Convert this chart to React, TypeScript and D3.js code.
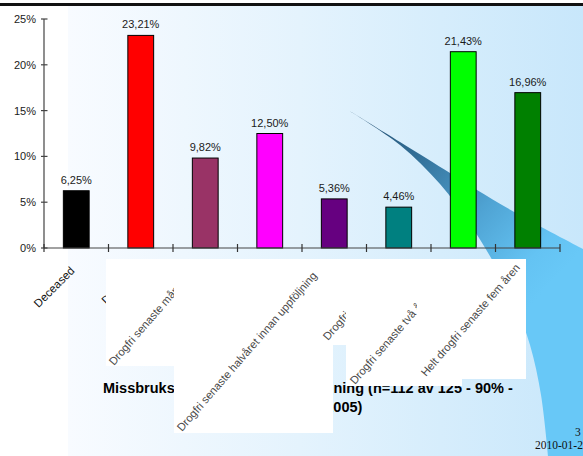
import React from "react";
import * as d3 from "d3";

// ---- chart data ----
const values = [6.25, 23.21, 9.82, 12.5, 5.36, 4.46, 21.43, 16.96];
const barColors = ["#000000", "#ff0000", "#993366", "#ff00ff", "#660080", "#008080", "#00ff00", "#008000"];
const axisLabels = ["Deceased", "Drogbruk"];
const yTicks = [0, 5, 10, 15, 20, 25];

// text boxes laid over the category axis
const calloutTexts = [
  "Drogfri senaste månaden",
  "Drogfri senaste halvåret innan uppföljning",
  "Drogfri senaste året",
  "Drogfri senaste två åren",
  "Helt drogfri senaste fem åren",
];

const titleLines = [
  "Missbruksstatus vid 5-års uppföljning (n=112 av 125 - 90% -",
  "inskrivna 2005)",
];
const slideNumber = "3";
const slideDate = "2010-01-2";

// ---- layout ----
const W = 583;
const H = 456;
const plot = { left: 44, right: 560, top: 19, bottom: 248 };
const FONT = "'Liberation Sans', Arial, sans-serif";

const calloutBoxes = [
  { x: 106, y: 259, w: 150, h: 107, tx: 114, ty: 366 },
  { x: 174, y: 259, w: 159, h: 174, tx: 182, ty: 432 },
  { x: 320, y: 259, w: 80, h: 86, tx: 328, ty: 341 },
  { x: 346, y: 259, w: 116, h: 127, tx: 355, ty: 385 },
  { x: 417, y: 259, w: 109, h: 120, tx: 426, ty: 377 },
];

// decorative swoosh of the slide background
const swooshLower: [number, number][] = [
  [348, 110], [400, 145], [440, 184], [470, 224], [495, 265], [515, 305], [530, 345], [541, 395], [548, 456],
];
const swooshUpper: [number, number][] = [
  [583, 249], [523, 217], [477, 190], [450, 173], [400, 142], [348, 110],
];

const fmtPct = (v: number) => d3.format(".2f")(v).replace(".", ",") + "%";

export default function App() {
  const y = d3.scaleLinear().domain([0, 25]).range([plot.bottom, plot.top]);
  const x = d3
    .scaleBand<number>()
    .domain(d3.range(values.length))
    .range([plot.left, plot.right])
    .paddingInner(0.6)
    .paddingOuter(0.3);
  const bw = x.bandwidth();
  const gap = (x.step() - bw) / 2;
  const boundaries = [...d3.range(values.length).map((i) => (x(i) as number) - gap), plot.right];

  const curve = d3.line().curve(d3.curveCatmullRom.alpha(0.5));
  const lower = curve(swooshLower) as string;
  const upper = (curve(swooshUpper) as string).replace(/^M/, "L");
  const swooshPath = `${lower}L${W + 2},${H}L${W + 2},249${upper}Z`;

  return (
    <svg
      width={W}
      height={H}
      viewBox={`0 0 ${W} ${H}`}
      style={{ position: "fixed", left: 0, top: 0, display: "block" }}
    >
      <defs>
        <linearGradient id="bg" x1="68" y1="0" x2={W} y2="0" gradientUnits="userSpaceOnUse">
          <stop offset="0" stopColor="#f8fbff" />
          <stop offset="0.45" stopColor="#e4f3fd" />
          <stop offset="1" stopColor="#c8e7fb" />
        </linearGradient>
        <linearGradient id="swoosh" x1="350" y1="110" x2="545" y2="290" gradientUnits="userSpaceOnUse">
          <stop offset="0" stopColor="#1f4767" />
          <stop offset="0.3" stopColor="#336f97" />
          <stop offset="0.62" stopColor="#4fa3d3" />
          <stop offset="0.88" stopColor="#64c3f3" />
          <stop offset="1" stopColor="#68c8f7" />
        </linearGradient>
      </defs>

      {/* slide background */}
      <rect x={0} y={0} width={W} height={H} fill="#ffffff" />
      <rect x={68} y={6} width={W - 68} height={H - 6} fill="url(#bg)" />
      <path d={swooshPath} fill="url(#swoosh)" />
      <rect x={0} y={3} width={W} height={3} fill="#111111" />

      {/* bars */}
      {values.map((v, i) => (
        <rect
          key={`bar-${i}`}
          x={x(i)}
          y={y(v)}
          width={bw}
          height={y(0) - y(v)}
          fill={barColors[i]}
          stroke="#000000"
          strokeWidth={1}
        />
      ))}

      {/* value labels */}
      {values.map((v, i) => (
        <text
          key={`val-${i}`}
          x={(x(i) as number) + bw / 2}
          y={y(v) - 7}
          textAnchor="middle"
          fontFamily={FONT}
          fontSize={11}
          fill="#1a1a1a"
        >
          {fmtPct(v)}
        </text>
      ))}

      {/* y axis */}
      <line x1={plot.left} x2={plot.left} y1={plot.top} y2={plot.bottom} stroke="#444" strokeWidth={1.2} />
      {yTicks.map((t) => (
        <g key={`yt-${t}`}>
          <line x1={plot.left - 3} x2={plot.left + 3.5} y1={y(t)} y2={y(t)} stroke="#444" strokeWidth={1.2} />
          <text
            x={plot.left - 8}
            y={y(t)}
            dy="0.36em"
            textAnchor="end"
            fontFamily={FONT}
            fontSize={11}
            fill="#1a1a1a"
          >
            {`${t}%`}
          </text>
        </g>
      ))}

      {/* x axis */}
      <line x1={plot.left} x2={plot.right} y1={plot.bottom} y2={plot.bottom} stroke="#444" strokeWidth={1.2} />
      {boundaries.map((b, i) => (
        <line key={`xt-${i}`} x1={b} x2={b} y1={plot.bottom - 4} y2={plot.bottom + 4} stroke="#333" strokeWidth={1.2} />
      ))}
      {axisLabels.map((label, i) => (
        <text
          key={`xl-${i}`}
          transform={`translate(${(x(i) as number) + bw / 2 - 1},271.5) rotate(-45)`}
          textAnchor="end"
          fontFamily={FONT}
          fontSize={11.5}
          fill="#111"
        >
          {label}
        </text>
      ))}

      {/* title */}
      <text x={103} y={393} fontFamily={FONT} fontSize={14.5} fontWeight="bold" fill="#000">
        {titleLines[0]}
      </text>
      <text x={310} y={412} textAnchor="middle" fontFamily={FONT} fontSize={14.5} fontWeight="bold" fill="#000">
        {titleLines[1]}
      </text>

      {/* category text boxes */}
      {calloutBoxes.map((b, i) => (
        <g key={`cb-${i}`}>
          <rect x={b.x} y={b.y} width={b.w} height={b.h} fill="#ffffff" />
          <text
            transform={`translate(${b.tx},${b.ty}) rotate(-49)`}
            fontFamily={FONT}
            fontSize={11.2}
            fill="#4a4a4a"
          >
            {calloutTexts[i]}
          </text>
        </g>
      ))}

      {/* footer */}
      <text x={575} y={436} fontFamily="'Liberation Serif', 'Times New Roman', serif" fontSize={11.5} fill="#111">
        {slideNumber}
      </text>
      <text x={535} y={449} fontFamily="'Liberation Serif', 'Times New Roman', serif" fontSize={11.5} fill="#111">
        {slideDate}
      </text>
    </svg>
  );
}
